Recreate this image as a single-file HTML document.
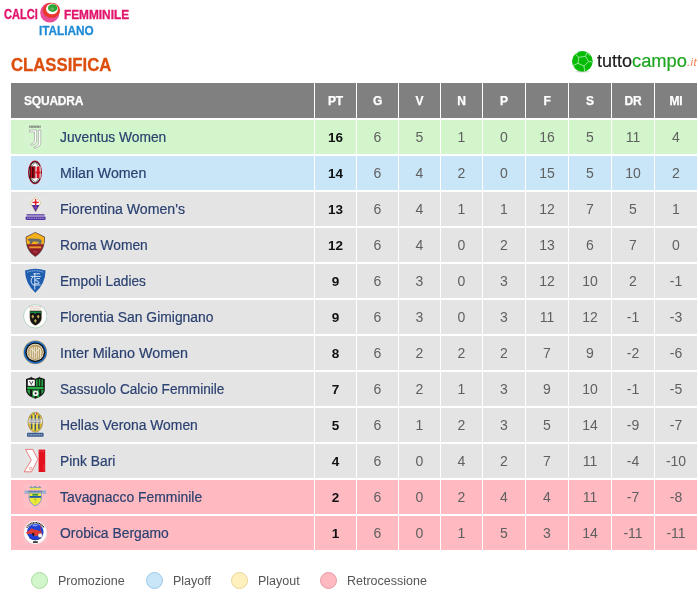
<!DOCTYPE html><html><head><meta charset="utf-8"><style>
*{margin:0;padding:0;box-sizing:border-box}
html,body{width:698px;height:598px;background:#fff;overflow:hidden;font-family:"Liberation Sans",sans-serif}
#w{position:absolute;left:0;top:0;width:698px;height:598px;will-change:transform}
.a{position:absolute}
.sx{transform-origin:0 0}
.c{position:absolute;height:34px}
.h{position:absolute;top:83px;height:35px;background:#808080;color:#fff;font-weight:bold;font-size:12px;line-height:36px;letter-spacing:-0.2px;-webkit-text-stroke:0.25px #fff;text-align:center}
.t{position:absolute;white-space:nowrap}
.n{font-size:14px;line-height:35px;text-align:center;color:#606060}
.pt{font-weight:bold;color:#111;font-size:13.5px}
.tm{font-size:14px;line-height:34px;color:#2b4170;left:60px;-webkit-text-stroke:0.2px #2b4170}
.lg{position:absolute;left:23px;width:24px;height:25px}
.lg svg{display:block}
.lt{font-size:12.5px;color:#555;line-height:16px}
.dot{position:absolute;width:17px;height:17px;border-radius:50%}
</style></head><body><div id="w">

<div class="a" style="left:0;top:0;width:140px;height:40px">
<div class="t sx" style="left:4px;top:7px;font-size:13.8px;font-weight:bold;color:#e2146c;transform:scaleX(0.80);-webkit-text-stroke:0.35px #e2146c">CALCI</div>
<svg class="a" style="left:38px;top:0px" width="26" height="26" viewBox="38 0 26 26"><ellipse cx="49.8" cy="12.7" rx="9.6" ry="9.9" fill="#ea4c97"/><ellipse cx="51.4" cy="10.3" rx="8.7" ry="7.6" fill="#e8392c"/><ellipse cx="52" cy="8.9" rx="6" ry="5.3" fill="#fff"/><ellipse cx="52.7" cy="8.1" rx="4.7" ry="3.9" fill="#2aa834"/><ellipse cx="52.2" cy="8.8" rx="2" ry="1.6" fill="#8ab88a" opacity=".6"/></svg>
<div class="t sx" style="left:64px;top:7px;font-size:13.6px;font-weight:bold;color:#e2146c;transform:scaleX(0.87);-webkit-text-stroke:0.35px #e2146c">FEMMINILE</div>
<div class="t sx" style="left:39px;top:22.5px;font-size:13px;font-weight:bold;color:#1f8ad6;transform:scaleX(0.905);-webkit-text-stroke:0.3px #1f8ad6">ITALIANO</div>
</div>
<div class="t sx" style="left:11px;top:54.5px;font-size:17.5px;font-weight:bold;color:#dc4f0e;transform:scaleX(0.955);-webkit-text-stroke:0.3px #dc4f0e">CLASSIFICA</div>
<svg class="a" style="left:570px;top:49px" width="26" height="26" viewBox="570 49 26 26"><ellipse cx="582.5" cy="71.6" rx="7" ry="1" fill="#999" opacity=".35"/><circle cx="582.4" cy="61.3" r="10.4" fill="#06bb06"/>
<g stroke="#b5f0b5" stroke-width=".8" fill="none" stroke-linejoin="round"><path d="M578.8 57.3L585.6 56.3L588.6 61.5L584 66.1L578 63.3Z"/><path d="M578.8 57.3L575.5 54.5M585.6 56.3L586.8 52.5M588.6 61.5L592.7 62M584 66.1L584.6 71M578 63.3L573 65.5M575.5 54.5L579 51.5M586.8 52.5L590 55.5M573 65.5L575 69"/></g></svg>
<div class="t sx" style="left:596.8px;top:50px;font-size:18.6px;color:#1c1c1c;transform:scaleX(0.97);-webkit-text-stroke:0.2px #1c1c1c">tutto</div>
<div class="t sx" style="left:632px;top:50px;font-size:18.6px;color:#1ea51e;transform:scaleX(0.985);-webkit-text-stroke:0.2px #1ea51e">campo</div>
<div class="t sx" style="left:687px;top:55.5px;font-size:11.5px;color:#f08552;font-style:italic;letter-spacing:0.4px">.it</div>
<div class="h" style="left:11px;width:303px;text-align:left;padding-left:13px">SQUADRA</div>
<div class="h" style="left:315px;width:41px">PT</div>
<div class="h" style="left:357px;width:41px">G</div>
<div class="h" style="left:399px;width:41px">V</div>
<div class="h" style="left:441px;width:41px">N</div>
<div class="h" style="left:483px;width:42px">P</div>
<div class="h" style="left:526px;width:42px">F</div>
<div class="h" style="left:569px;width:42px">S</div>
<div class="h" style="left:612px;width:42px">DR</div>
<div class="h" style="left:655px;width:42px">MI</div>
<div class="c" style="left:11px;top:120px;width:303px;background:#d2f5cb"></div>
<div class="c" style="left:315px;top:120px;width:41px;background:#d2f5cb"></div>
<div class="c" style="left:357px;top:120px;width:41px;background:#d2f5cb"></div>
<div class="c" style="left:399px;top:120px;width:41px;background:#d2f5cb"></div>
<div class="c" style="left:441px;top:120px;width:41px;background:#d2f5cb"></div>
<div class="c" style="left:483px;top:120px;width:42px;background:#d2f5cb"></div>
<div class="c" style="left:526px;top:120px;width:42px;background:#d2f5cb"></div>
<div class="c" style="left:569px;top:120px;width:42px;background:#d2f5cb"></div>
<div class="c" style="left:612px;top:120px;width:42px;background:#d2f5cb"></div>
<div class="c" style="left:655px;top:120px;width:42px;background:#d2f5cb"></div>
<div class="lg" style="top:124px"><svg width="24" height="25" viewBox="0 0 24 25"><rect x="0.3" y="0" width="24" height="24.6" fill="#fff" opacity=".07"/><g fill="#4a4a4a" opacity=".75"><rect x="6.3" y="1.6" width=".9" height="2.2"/><rect x="7.6" y="1.6" width="1.2" height="2.2"/><rect x="9.2" y="1.6" width="1.2" height="2.2"/><rect x="10.8" y="1.6" width="1" height="2.2"/><rect x="12.2" y="1.6" width="1.2" height="2.2"/><rect x="13.8" y="1.6" width="1" height="2.2"/><rect x="15.2" y="1.6" width="1.1" height="2.2"/><rect x="16.7" y="1.6" width=".9" height="2.2"/></g>
<path d="M6.5 6H13.6V17C13.6 19 12 20.3 8.3 21.4L7.6 20.3C10.5 19.3 11.5 18.4 11.5 16.5V7.9H6.5Z" fill="#fff" stroke="#777" stroke-width=".45"/>
<path d="M15.6 6H17.8V19C17.8 21.5 15.6 23 11.4 24.3L10.7 23.2C14.4 21.9 15.6 20.6 15.6 18.5Z" fill="#fff" stroke="#777" stroke-width=".45"/></svg></div>
<div class="t tm" style="top:120px;transform:scaleX(0.985);transform-origin:0 0">Juventus Women</div>
<div class="t n pt" style="left:315px;top:120px;width:41px">16</div>
<div class="t n" style="left:357px;top:120px;width:41px">6</div>
<div class="t n" style="left:399px;top:120px;width:41px">5</div>
<div class="t n" style="left:441px;top:120px;width:41px">1</div>
<div class="t n" style="left:483px;top:120px;width:42px">0</div>
<div class="t n" style="left:526px;top:120px;width:42px">16</div>
<div class="t n" style="left:569px;top:120px;width:42px">5</div>
<div class="t n" style="left:612px;top:120px;width:42px">11</div>
<div class="t n" style="left:655px;top:120px;width:42px">4</div>
<div class="c" style="left:11px;top:156px;width:303px;background:#c9e5f8"></div>
<div class="c" style="left:315px;top:156px;width:41px;background:#c9e5f8"></div>
<div class="c" style="left:357px;top:156px;width:41px;background:#c9e5f8"></div>
<div class="c" style="left:399px;top:156px;width:41px;background:#c9e5f8"></div>
<div class="c" style="left:441px;top:156px;width:41px;background:#c9e5f8"></div>
<div class="c" style="left:483px;top:156px;width:42px;background:#c9e5f8"></div>
<div class="c" style="left:526px;top:156px;width:42px;background:#c9e5f8"></div>
<div class="c" style="left:569px;top:156px;width:42px;background:#c9e5f8"></div>
<div class="c" style="left:612px;top:156px;width:42px;background:#c9e5f8"></div>
<div class="c" style="left:655px;top:156px;width:42px;background:#c9e5f8"></div>
<div class="lg" style="top:160px"><svg width="24" height="25" viewBox="0 0 24 25"><rect x="0.3" y="0" width="24" height="24.6" fill="#fff" opacity=".07"/><ellipse cx="12" cy="12.4" rx="7" ry="11.9" fill="#c8102e"/><ellipse cx="12" cy="12.4" rx="6.3" ry="11.1" fill="#1a1a1a"/><ellipse cx="12" cy="12.4" rx="5.5" ry="10.2" fill="#fff"/>
<ellipse cx="12" cy="12.4" rx="4.6" ry="9.2" fill="none" stroke="#555" stroke-width="1.2" stroke-dasharray="1 .8"/>
<path d="M6.8 6.5H12.6V18.2H6.8Z" fill="#1a0000"/><rect x="7.5" y="6.5" width="1.8" height="11.7" fill="#c0101e"/><rect x="10.4" y="6.5" width="1.8" height="11.7" fill="#b0101e"/>
<rect x="12.6" y="6.5" width="5" height="11.7" fill="#fff"/><rect x="13.6" y="6.5" width="3" height="11.7" fill="#d8101e"/><rect x="12.6" y="11.5" width="5" height="2" fill="#d8101e"/></svg></div>
<div class="t tm" style="top:156px;transform:scaleX(1.0118);transform-origin:0 0">Milan Women</div>
<div class="t n pt" style="left:315px;top:156px;width:41px">14</div>
<div class="t n" style="left:357px;top:156px;width:41px">6</div>
<div class="t n" style="left:399px;top:156px;width:41px">4</div>
<div class="t n" style="left:441px;top:156px;width:41px">2</div>
<div class="t n" style="left:483px;top:156px;width:42px">0</div>
<div class="t n" style="left:526px;top:156px;width:42px">15</div>
<div class="t n" style="left:569px;top:156px;width:42px">5</div>
<div class="t n" style="left:612px;top:156px;width:42px">10</div>
<div class="t n" style="left:655px;top:156px;width:42px">2</div>
<div class="c" style="left:11px;top:192px;width:303px;background:#e4e4e4"></div>
<div class="c" style="left:315px;top:192px;width:41px;background:#e4e4e4"></div>
<div class="c" style="left:357px;top:192px;width:41px;background:#e4e4e4"></div>
<div class="c" style="left:399px;top:192px;width:41px;background:#e4e4e4"></div>
<div class="c" style="left:441px;top:192px;width:41px;background:#e4e4e4"></div>
<div class="c" style="left:483px;top:192px;width:42px;background:#e4e4e4"></div>
<div class="c" style="left:526px;top:192px;width:42px;background:#e4e4e4"></div>
<div class="c" style="left:569px;top:192px;width:42px;background:#e4e4e4"></div>
<div class="c" style="left:612px;top:192px;width:42px;background:#e4e4e4"></div>
<div class="c" style="left:655px;top:192px;width:42px;background:#e4e4e4"></div>
<div class="lg" style="top:196px"><svg width="24" height="25" viewBox="0 0 24 25"><rect x="0.3" y="0" width="24" height="24.6" fill="#fff" opacity=".07"/><path d="M12.6 1.3L17.9 6.4L12.6 16L7.3 6.4Z" fill="#fff" stroke="#c9a84a" stroke-width=".6"/>
<path d="M8.8 8.9H16.4L12.6 15.8Z" fill="#4b2d9a"/><circle cx="12.6" cy="11.5" r="1.2" fill="#8a4ab0"/>
<path d="M12.6 3V9.8M9.4 6.4H15.8" stroke="#e5202a" stroke-width="1.3"/><circle cx="12.6" cy="6.4" r="1.3" fill="#e5202a"/>
<rect x="3.6" y="18" width="18" height="1.7" fill="#5a3aa8" opacity=".8"/><rect x="2.6" y="20.6" width="20" height="3.3" rx=".8" fill="#5233a4"/>
<path d="M4 22.2H21.5" stroke="#c9bde8" stroke-width=".9" stroke-dasharray="1.2 .6"/></svg></div>
<div class="t tm" style="top:192px;transform:scaleX(1.0097);transform-origin:0 0">Fiorentina Women's</div>
<div class="t n pt" style="left:315px;top:192px;width:41px">13</div>
<div class="t n" style="left:357px;top:192px;width:41px">6</div>
<div class="t n" style="left:399px;top:192px;width:41px">4</div>
<div class="t n" style="left:441px;top:192px;width:41px">1</div>
<div class="t n" style="left:483px;top:192px;width:42px">1</div>
<div class="t n" style="left:526px;top:192px;width:42px">12</div>
<div class="t n" style="left:569px;top:192px;width:42px">7</div>
<div class="t n" style="left:612px;top:192px;width:42px">5</div>
<div class="t n" style="left:655px;top:192px;width:42px">1</div>
<div class="c" style="left:11px;top:228px;width:303px;background:#e4e4e4"></div>
<div class="c" style="left:315px;top:228px;width:41px;background:#e4e4e4"></div>
<div class="c" style="left:357px;top:228px;width:41px;background:#e4e4e4"></div>
<div class="c" style="left:399px;top:228px;width:41px;background:#e4e4e4"></div>
<div class="c" style="left:441px;top:228px;width:41px;background:#e4e4e4"></div>
<div class="c" style="left:483px;top:228px;width:42px;background:#e4e4e4"></div>
<div class="c" style="left:526px;top:228px;width:42px;background:#e4e4e4"></div>
<div class="c" style="left:569px;top:228px;width:42px;background:#e4e4e4"></div>
<div class="c" style="left:612px;top:228px;width:42px;background:#e4e4e4"></div>
<div class="c" style="left:655px;top:228px;width:42px;background:#e4e4e4"></div>
<div class="lg" style="top:232px"><svg width="24" height="25" viewBox="0 0 24 25"><rect x="0.3" y="0" width="24" height="24.6" fill="#fff" opacity=".07"/><path d="M12.3 0.4L21.6 5C21.6 14 19.2 20.3 12.3 24.5C5.4 20.3 3 14 3 5Z" fill="#8e1b2a" stroke="#333" stroke-width=".6"/>
<path d="M12.3 0.8L21.2 5.2C21.2 8 21 10.2 20.7 12.2H3.9C3.6 10.2 3.4 8 3.4 5.2Z" fill="#f3b21b"/>
<path d="M4.5 7.2C6 6.2 9 6.6 12 6.8C15 6.5 17.5 6.8 18.8 8.5L18 12H14.3L13.5 9.5L10 9.6L8.5 12H6.5L7 9.3C6 8.8 5 8.3 4.5 7.2Z" fill="#6a6a6a"/>
<circle cx="14.8" cy="10.6" r="1.1" fill="#c7b255"/>
<path d="M6.2 15.3H18.2" stroke="#e8962a" stroke-width="2"/><path d="M10.5 19.8H14.2" stroke="#b0505a" stroke-width="1"/></svg></div>
<div class="t tm" style="top:228px;transform:scaleX(0.9831);transform-origin:0 0">Roma Women</div>
<div class="t n pt" style="left:315px;top:228px;width:41px">12</div>
<div class="t n" style="left:357px;top:228px;width:41px">6</div>
<div class="t n" style="left:399px;top:228px;width:41px">4</div>
<div class="t n" style="left:441px;top:228px;width:41px">0</div>
<div class="t n" style="left:483px;top:228px;width:42px">2</div>
<div class="t n" style="left:526px;top:228px;width:42px">13</div>
<div class="t n" style="left:569px;top:228px;width:42px">6</div>
<div class="t n" style="left:612px;top:228px;width:42px">7</div>
<div class="t n" style="left:655px;top:228px;width:42px">0</div>
<div class="c" style="left:11px;top:264px;width:303px;background:#e4e4e4"></div>
<div class="c" style="left:315px;top:264px;width:41px;background:#e4e4e4"></div>
<div class="c" style="left:357px;top:264px;width:41px;background:#e4e4e4"></div>
<div class="c" style="left:399px;top:264px;width:41px;background:#e4e4e4"></div>
<div class="c" style="left:441px;top:264px;width:41px;background:#e4e4e4"></div>
<div class="c" style="left:483px;top:264px;width:42px;background:#e4e4e4"></div>
<div class="c" style="left:526px;top:264px;width:42px;background:#e4e4e4"></div>
<div class="c" style="left:569px;top:264px;width:42px;background:#e4e4e4"></div>
<div class="c" style="left:612px;top:264px;width:42px;background:#e4e4e4"></div>
<div class="c" style="left:655px;top:264px;width:42px;background:#e4e4e4"></div>
<div class="lg" style="top:268px"><svg width="24" height="25" viewBox="0 0 24 25"><rect x="0.3" y="0" width="24" height="24.6" fill="#fff" opacity=".07"/><path d="M2 2.5Q12.3 -1.2 22.6 2.5Q22.4 15.5 12.3 24.8Q2.2 15.5 2 2.5Z" fill="#1f5eaf"/>
<path d="M4 4.3Q12.3 1.2 20.6 4.3" stroke="#9dbde6" stroke-width="1" fill="none" stroke-dasharray="1.2 .5"/>
<g stroke="#e3eefa" stroke-width=".9" fill="none"><path d="M11.8 5.2V21.5M10.3 5.8H16.8M7.6 8.4H17.8M9.8 17H17.6"/><path d="M10 8.8Q6.2 12.8 10 16.8"/><path d="M16.8 10.5Q13 9.6 12.3 12.2Q15.8 13 16.2 15Q14 16.5 11.8 15.8"/></g></svg></div>
<div class="t tm" style="top:264px;transform:scaleX(0.9772);transform-origin:0 0">Empoli Ladies</div>
<div class="t n pt" style="left:315px;top:264px;width:41px">9</div>
<div class="t n" style="left:357px;top:264px;width:41px">6</div>
<div class="t n" style="left:399px;top:264px;width:41px">3</div>
<div class="t n" style="left:441px;top:264px;width:41px">0</div>
<div class="t n" style="left:483px;top:264px;width:42px">3</div>
<div class="t n" style="left:526px;top:264px;width:42px">12</div>
<div class="t n" style="left:569px;top:264px;width:42px">10</div>
<div class="t n" style="left:612px;top:264px;width:42px">2</div>
<div class="t n" style="left:655px;top:264px;width:42px">-1</div>
<div class="c" style="left:11px;top:300px;width:303px;background:#e4e4e4"></div>
<div class="c" style="left:315px;top:300px;width:41px;background:#e4e4e4"></div>
<div class="c" style="left:357px;top:300px;width:41px;background:#e4e4e4"></div>
<div class="c" style="left:399px;top:300px;width:41px;background:#e4e4e4"></div>
<div class="c" style="left:441px;top:300px;width:41px;background:#e4e4e4"></div>
<div class="c" style="left:483px;top:300px;width:42px;background:#e4e4e4"></div>
<div class="c" style="left:526px;top:300px;width:42px;background:#e4e4e4"></div>
<div class="c" style="left:569px;top:300px;width:42px;background:#e4e4e4"></div>
<div class="c" style="left:612px;top:300px;width:42px;background:#e4e4e4"></div>
<div class="c" style="left:655px;top:300px;width:42px;background:#e4e4e4"></div>
<div class="lg" style="top:304px"><svg width="24" height="25" viewBox="0 0 24 25"><rect x="0.3" y="0" width="24" height="24.6" fill="#fff" opacity=".07"/><circle cx="12.3" cy="12.3" r="11.7" fill="#fff" stroke="#7fb39c" stroke-width=".55"/>
<path d="M6 2.8H18.6M6.8 4.8H17.8" stroke="#c79a8a" stroke-width=".8" stroke-dasharray="1 .4"/>
<path d="M6.8 6.8H18.6V13.5C18.6 17.5 16 20 12.3 21.6C8.6 20 6.8 17.5 6.8 13.5Z" fill="#131313" stroke="#b8a16a" stroke-width=".4"/>
<path d="M7 7.5H18.4V9H13V10H11.6V9H7Z" fill="#178a4a"/>
<g fill="#b8a052"><path d="M9.8 10.5L11.3 12.6L9.8 14.7L8.3 12.6Z"/><path d="M15.2 10.5L16.7 12.6L15.2 14.7L13.7 12.6Z"/><path d="M12.4 14.7L13.9 16.8L12.4 18.9L10.9 16.8Z"/></g></svg></div>
<div class="t tm" style="top:300px;transform:scaleX(0.991);transform-origin:0 0">Florentia San Gimignano</div>
<div class="t n pt" style="left:315px;top:300px;width:41px">9</div>
<div class="t n" style="left:357px;top:300px;width:41px">6</div>
<div class="t n" style="left:399px;top:300px;width:41px">3</div>
<div class="t n" style="left:441px;top:300px;width:41px">0</div>
<div class="t n" style="left:483px;top:300px;width:42px">3</div>
<div class="t n" style="left:526px;top:300px;width:42px">11</div>
<div class="t n" style="left:569px;top:300px;width:42px">12</div>
<div class="t n" style="left:612px;top:300px;width:42px">-1</div>
<div class="t n" style="left:655px;top:300px;width:42px">-3</div>
<div class="c" style="left:11px;top:336px;width:303px;background:#e4e4e4"></div>
<div class="c" style="left:315px;top:336px;width:41px;background:#e4e4e4"></div>
<div class="c" style="left:357px;top:336px;width:41px;background:#e4e4e4"></div>
<div class="c" style="left:399px;top:336px;width:41px;background:#e4e4e4"></div>
<div class="c" style="left:441px;top:336px;width:41px;background:#e4e4e4"></div>
<div class="c" style="left:483px;top:336px;width:42px;background:#e4e4e4"></div>
<div class="c" style="left:526px;top:336px;width:42px;background:#e4e4e4"></div>
<div class="c" style="left:569px;top:336px;width:42px;background:#e4e4e4"></div>
<div class="c" style="left:612px;top:336px;width:42px;background:#e4e4e4"></div>
<div class="c" style="left:655px;top:336px;width:42px;background:#e4e4e4"></div>
<div class="lg" style="top:340px"><svg width="24" height="25" viewBox="0 0 24 25"><rect x="0.3" y="0" width="24" height="24.6" fill="#fff" opacity=".07"/><circle cx="12.3" cy="12.3" r="12" fill="#c3a56a"/><circle cx="12.3" cy="12.3" r="11.4" fill="#1b6ac4"/><circle cx="12.3" cy="12.3" r="9.9" fill="#111"/>
<circle cx="12.3" cy="12.3" r="8.5" fill="#f2ead8"/><circle cx="12.3" cy="12.3" r="7.8" fill="#b59b62"/>
<g stroke="#f5efe0" stroke-width=".9" fill="none"><path d="M7.2 8.5V17.5M9.3 7V18.3M11.3 6.5V19M13.3 6.5V19M15.3 7V18.3M17.4 8.5V17.5"/><path d="M7.5 8L12.3 12.5L17 8"/></g>
<path d="M6 11V14M18.6 11V14" stroke="#d8c8a0" stroke-width=".8"/></svg></div>
<div class="t tm" style="top:336px;transform:scaleX(1.0241);transform-origin:0 0">Inter Milano Women</div>
<div class="t n pt" style="left:315px;top:336px;width:41px">8</div>
<div class="t n" style="left:357px;top:336px;width:41px">6</div>
<div class="t n" style="left:399px;top:336px;width:41px">2</div>
<div class="t n" style="left:441px;top:336px;width:41px">2</div>
<div class="t n" style="left:483px;top:336px;width:42px">2</div>
<div class="t n" style="left:526px;top:336px;width:42px">7</div>
<div class="t n" style="left:569px;top:336px;width:42px">9</div>
<div class="t n" style="left:612px;top:336px;width:42px">-2</div>
<div class="t n" style="left:655px;top:336px;width:42px">-6</div>
<div class="c" style="left:11px;top:372px;width:303px;background:#e4e4e4"></div>
<div class="c" style="left:315px;top:372px;width:41px;background:#e4e4e4"></div>
<div class="c" style="left:357px;top:372px;width:41px;background:#e4e4e4"></div>
<div class="c" style="left:399px;top:372px;width:41px;background:#e4e4e4"></div>
<div class="c" style="left:441px;top:372px;width:41px;background:#e4e4e4"></div>
<div class="c" style="left:483px;top:372px;width:42px;background:#e4e4e4"></div>
<div class="c" style="left:526px;top:372px;width:42px;background:#e4e4e4"></div>
<div class="c" style="left:569px;top:372px;width:42px;background:#e4e4e4"></div>
<div class="c" style="left:612px;top:372px;width:42px;background:#e4e4e4"></div>
<div class="c" style="left:655px;top:372px;width:42px;background:#e4e4e4"></div>
<div class="lg" style="top:376px"><svg width="24" height="25" viewBox="0 0 24 25"><rect x="0.3" y="0" width="24" height="24.6" fill="#fff" opacity=".07"/><path d="M3 3L8.3 1.3L12.3 2.8L16.3 1.3L21.8 3V14C21.8 18.5 17 21 12.3 22.8C7.6 21 3 18.5 3 14Z" fill="#161616"/>
<path d="M8.3 .4L9 1.6H7.6Z M16.3 .4L17 1.6H15.6Z" fill="#161616"/>
<rect x="4.8" y="3.8" width="7" height="6" fill="#fff"/><path d="M6.5 5L8.3 8.5L10 5" stroke="#222" stroke-width=".8" fill="none"/>
<g fill="#24a640"><rect x="13" y="3.5" width="1.6" height="6.5"/><rect x="15.7" y="3" width="1.6" height="7"/><rect x="18.4" y="3.5" width="1.6" height="6.5"/></g>
<rect x="4.2" y="10.8" width="16.4" height="2.4" rx=".8" fill="#29b14a"/>
<g fill="#22a13e"><path d="M4.2 13.8H7V18.7Q5 17 4.2 14.8Z"/><rect x="9.3" y="13.8" width="2.4" height="7.8"/><rect x="13.8" y="13.8" width="2.4" height="7.6"/><path d="M18.3 13.8H20.6V15Q19.8 17.5 18.3 18.5Z"/></g>
<circle cx="12.6" cy="17.2" r="2.8" fill="#f4f4f4"/><path d="M11.8 16.4L13.3 16.2L13.7 17.6L12.5 18.4L11.5 17.6Z" fill="#222"/></svg></div>
<div class="t tm" style="top:372px;transform:scaleX(0.9739);transform-origin:0 0">Sassuolo Calcio Femminile</div>
<div class="t n pt" style="left:315px;top:372px;width:41px">7</div>
<div class="t n" style="left:357px;top:372px;width:41px">6</div>
<div class="t n" style="left:399px;top:372px;width:41px">2</div>
<div class="t n" style="left:441px;top:372px;width:41px">1</div>
<div class="t n" style="left:483px;top:372px;width:42px">3</div>
<div class="t n" style="left:526px;top:372px;width:42px">9</div>
<div class="t n" style="left:569px;top:372px;width:42px">10</div>
<div class="t n" style="left:612px;top:372px;width:42px">-1</div>
<div class="t n" style="left:655px;top:372px;width:42px">-5</div>
<div class="c" style="left:11px;top:408px;width:303px;background:#e4e4e4"></div>
<div class="c" style="left:315px;top:408px;width:41px;background:#e4e4e4"></div>
<div class="c" style="left:357px;top:408px;width:41px;background:#e4e4e4"></div>
<div class="c" style="left:399px;top:408px;width:41px;background:#e4e4e4"></div>
<div class="c" style="left:441px;top:408px;width:41px;background:#e4e4e4"></div>
<div class="c" style="left:483px;top:408px;width:42px;background:#e4e4e4"></div>
<div class="c" style="left:526px;top:408px;width:42px;background:#e4e4e4"></div>
<div class="c" style="left:569px;top:408px;width:42px;background:#e4e4e4"></div>
<div class="c" style="left:612px;top:408px;width:42px;background:#e4e4e4"></div>
<div class="c" style="left:655px;top:408px;width:42px;background:#e4e4e4"></div>
<div class="lg" style="top:412px"><svg width="24" height="25" viewBox="0 0 24 25"><rect x="0.3" y="0" width="24" height="24.6" fill="#fff" opacity=".07"/><ellipse cx="12.3" cy="10.3" rx="7.3" ry="10" fill="#d8b838" stroke="#5a4a20" stroke-width=".4"/>
<g stroke="#f2e650" stroke-width="1.2"><path d="M10.5 3V18M14.1 3V18"/></g><g stroke="#23468a" stroke-width="1.1"><path d="M8.7 3.5V17M12.3 2.5V18.5M15.9 3.5V17"/></g>
<rect x="10.8" y="0.8" width="1" height="2" fill="#2a9a40"/><rect x="11.8" y="0.8" width="1" height="2" fill="#fff"/><rect x="12.8" y="0.8" width="1" height="2" fill="#e02a2a"/>
<rect x="5.8" y="6.8" width="13" height="4.6" fill="#f4f4f4"/><path d="M6.6 8H18M6.6 10.2H18" stroke="#333" stroke-width=".9" stroke-dasharray="1 .35"/>
<rect x="4" y="20.8" width="16.6" height="4" rx=".8" fill="#3a5a8c"/><path d="M5 22.8H19.6" stroke="#c8d4e6" stroke-width=".9" stroke-dasharray="1.1 .5"/></svg></div>
<div class="t tm" style="top:408px;transform:scaleX(0.9913);transform-origin:0 0">Hellas Verona Women</div>
<div class="t n pt" style="left:315px;top:408px;width:41px">5</div>
<div class="t n" style="left:357px;top:408px;width:41px">6</div>
<div class="t n" style="left:399px;top:408px;width:41px">1</div>
<div class="t n" style="left:441px;top:408px;width:41px">2</div>
<div class="t n" style="left:483px;top:408px;width:42px">3</div>
<div class="t n" style="left:526px;top:408px;width:42px">5</div>
<div class="t n" style="left:569px;top:408px;width:42px">14</div>
<div class="t n" style="left:612px;top:408px;width:42px">-9</div>
<div class="t n" style="left:655px;top:408px;width:42px">-7</div>
<div class="c" style="left:11px;top:444px;width:303px;background:#e4e4e4"></div>
<div class="c" style="left:315px;top:444px;width:41px;background:#e4e4e4"></div>
<div class="c" style="left:357px;top:444px;width:41px;background:#e4e4e4"></div>
<div class="c" style="left:399px;top:444px;width:41px;background:#e4e4e4"></div>
<div class="c" style="left:441px;top:444px;width:41px;background:#e4e4e4"></div>
<div class="c" style="left:483px;top:444px;width:42px;background:#e4e4e4"></div>
<div class="c" style="left:526px;top:444px;width:42px;background:#e4e4e4"></div>
<div class="c" style="left:569px;top:444px;width:42px;background:#e4e4e4"></div>
<div class="c" style="left:612px;top:444px;width:42px;background:#e4e4e4"></div>
<div class="c" style="left:655px;top:444px;width:42px;background:#e4e4e4"></div>
<div class="lg" style="top:448px"><svg width="24" height="25" viewBox="0 0 24 25"><rect x="0.3" y="0" width="24" height="24.6" fill="#fff" opacity=".07"/><path d="M2.5 1.4H9.8L14.8 11.5L8.5 23.8H1.3L8.3 12Z" fill="#fff" stroke="#e23030" stroke-width=".6"/>
<circle cx="7.5" cy="20.5" r="1.2" fill="none" stroke="#e04040" stroke-width=".5"/>
<rect x="15.6" y="1.6" width="6.6" height="22.4" fill="#e3101e"/><path d="M16.2 3.2H21.6" stroke="#fff" stroke-width=".4" stroke-dasharray=".6 .8"/><path d="M20.8 16V22.5" stroke="#f07070" stroke-width=".4"/></svg></div>
<div class="t tm" style="top:444px;transform:scaleX(0.9874);transform-origin:0 0">Pink Bari</div>
<div class="t n pt" style="left:315px;top:444px;width:41px">4</div>
<div class="t n" style="left:357px;top:444px;width:41px">6</div>
<div class="t n" style="left:399px;top:444px;width:41px">0</div>
<div class="t n" style="left:441px;top:444px;width:41px">4</div>
<div class="t n" style="left:483px;top:444px;width:42px">2</div>
<div class="t n" style="left:526px;top:444px;width:42px">7</div>
<div class="t n" style="left:569px;top:444px;width:42px">11</div>
<div class="t n" style="left:612px;top:444px;width:42px">-4</div>
<div class="t n" style="left:655px;top:444px;width:42px">-10</div>
<div class="c" style="left:11px;top:480px;width:303px;background:#ffb9c1"></div>
<div class="c" style="left:315px;top:480px;width:41px;background:#ffb9c1"></div>
<div class="c" style="left:357px;top:480px;width:41px;background:#ffb9c1"></div>
<div class="c" style="left:399px;top:480px;width:41px;background:#ffb9c1"></div>
<div class="c" style="left:441px;top:480px;width:41px;background:#ffb9c1"></div>
<div class="c" style="left:483px;top:480px;width:42px;background:#ffb9c1"></div>
<div class="c" style="left:526px;top:480px;width:42px;background:#ffb9c1"></div>
<div class="c" style="left:569px;top:480px;width:42px;background:#ffb9c1"></div>
<div class="c" style="left:612px;top:480px;width:42px;background:#ffb9c1"></div>
<div class="c" style="left:655px;top:480px;width:42px;background:#ffb9c1"></div>
<div class="lg" style="top:484px"><svg width="24" height="25" viewBox="0 0 24 25"><rect x="0.3" y="0" width="24" height="24.6" fill="#fff" opacity=".07"/><path d="M6 4L8 2L10 3.2L12.3 1.8L14.6 3.2L16.6 2L18.6 4Z" fill="#7a90b6"/><rect x="7" y="3.8" width="10.6" height="1.8" fill="#e6e24a"/>
<path d="M1 6.2L5.5 6.8H19L23.6 6.2L22.5 8.3L23.6 10.2L19 9.6H5.5L1 10.2L2.1 8.3Z" fill="#98b0cc"/>
<path d="M5.6 6.8H19V14C19 18 16 20.5 12.3 22.6C8.6 20.5 5.6 18 5.6 14Z" fill="#8fa3c0"/>
<path d="M6.6 9.4H18V14C18 17.5 15.5 19.6 12.3 21.3C9.1 19.6 6.6 17.5 6.6 14Z" fill="#eee936"/>
<path d="M5.2 7.3H19.4" stroke="#3a5a9a" stroke-width=".9" stroke-dasharray="1 .4"/>
<rect x="9.3" y="9.8" width="5.8" height="1.9" fill="#3c9a45"/>
<rect x="6.6" y="12" width="11.4" height="1.8" fill="#2558b0"/>
<path d="M12.3 14V18.5M10.8 15.5H13.8" stroke="#a8b84a" stroke-width=".7"/></svg></div>
<div class="t tm" style="top:480px;transform:scaleX(0.993);transform-origin:0 0">Tavagnacco Femminile</div>
<div class="t n pt" style="left:315px;top:480px;width:41px">2</div>
<div class="t n" style="left:357px;top:480px;width:41px">6</div>
<div class="t n" style="left:399px;top:480px;width:41px">0</div>
<div class="t n" style="left:441px;top:480px;width:41px">2</div>
<div class="t n" style="left:483px;top:480px;width:42px">4</div>
<div class="t n" style="left:526px;top:480px;width:42px">4</div>
<div class="t n" style="left:569px;top:480px;width:42px">11</div>
<div class="t n" style="left:612px;top:480px;width:42px">-7</div>
<div class="t n" style="left:655px;top:480px;width:42px">-8</div>
<div class="c" style="left:11px;top:516px;width:303px;background:#ffb9c1"></div>
<div class="c" style="left:315px;top:516px;width:41px;background:#ffb9c1"></div>
<div class="c" style="left:357px;top:516px;width:41px;background:#ffb9c1"></div>
<div class="c" style="left:399px;top:516px;width:41px;background:#ffb9c1"></div>
<div class="c" style="left:441px;top:516px;width:41px;background:#ffb9c1"></div>
<div class="c" style="left:483px;top:516px;width:42px;background:#ffb9c1"></div>
<div class="c" style="left:526px;top:516px;width:42px;background:#ffb9c1"></div>
<div class="c" style="left:569px;top:516px;width:42px;background:#ffb9c1"></div>
<div class="c" style="left:612px;top:516px;width:42px;background:#ffb9c1"></div>
<div class="c" style="left:655px;top:516px;width:42px;background:#ffb9c1"></div>
<div class="lg" style="top:520px"><svg width="24" height="25" viewBox="0 0 24 25"><rect x="0.3" y="0" width="24" height="24.6" fill="#fff" opacity=".07"/><circle cx="12.3" cy="12.5" r="11.4" fill="#fff" stroke="#ddd" stroke-width=".4"/>
<circle cx="12.3" cy="12" r="8.3" fill="#1f3fd6"/>
<path d="M3.8 7.6A9.8 9.8 0 0 1 20.8 7.6" stroke="#222" stroke-width="1.5" fill="none" stroke-dasharray="1.1 .45"/><path d="M6.5 17Q12.3 21.5 18.3 17L18 18.5Q12.3 22 6.6 18.5Z" fill="#2233a0"/>
<rect x="9.6" y="4.6" width="4.8" height="1.6" fill="#8da0f0"/>
<path d="M2.8 12.5L6.3 10.6L8.5 8.2L10.8 9.6L14.8 10.2L18.3 11.6L19.2 13.5L16 14.8L13.5 16.3L10.4 15L7.5 13.6L4.5 14.2Z" fill="#e13b34"/>
<path d="M9.5 12.4L11.5 13.5L10.8 16L9.2 15Z" fill="#111"/><path d="M17.6 4.5V13.5" stroke="#d02a2a" stroke-width=".6"/>
<circle cx="17.2" cy="15.4" r="2.2" fill="#fff" stroke="#555" stroke-width=".4"/>
<rect x="10" y="21.3" width="4.8" height="1.6" fill="#222"/></svg></div>
<div class="t tm" style="top:516px;transform:scaleX(0.9909);transform-origin:0 0">Orobica Bergamo</div>
<div class="t n pt" style="left:315px;top:516px;width:41px">1</div>
<div class="t n" style="left:357px;top:516px;width:41px">6</div>
<div class="t n" style="left:399px;top:516px;width:41px">0</div>
<div class="t n" style="left:441px;top:516px;width:41px">1</div>
<div class="t n" style="left:483px;top:516px;width:42px">5</div>
<div class="t n" style="left:526px;top:516px;width:42px">3</div>
<div class="t n" style="left:569px;top:516px;width:42px">14</div>
<div class="t n" style="left:612px;top:516px;width:42px">-11</div>
<div class="t n" style="left:655px;top:516px;width:42px">-11</div>
<div class="dot" style="left:31px;top:572px;background:#d2f5cb;border:1px solid #a8dca0"></div>
<div class="t lt" style="left:58px;top:573px">Promozione</div>
<div class="dot" style="left:146px;top:572px;background:#c9e5f8;border:1px solid #9cc8ea"></div>
<div class="t lt" style="left:173px;top:573px">Playoff</div>
<div class="dot" style="left:231px;top:572px;background:#fff0bd;border:1px solid #e8d39a"></div>
<div class="t lt" style="left:258px;top:573px">Playout</div>
<div class="dot" style="left:320px;top:572px;background:#ffb9c1;border:1px solid #e69aa4"></div>
<div class="t lt" style="left:347px;top:573px">Retrocessione</div>
</div></body></html>
